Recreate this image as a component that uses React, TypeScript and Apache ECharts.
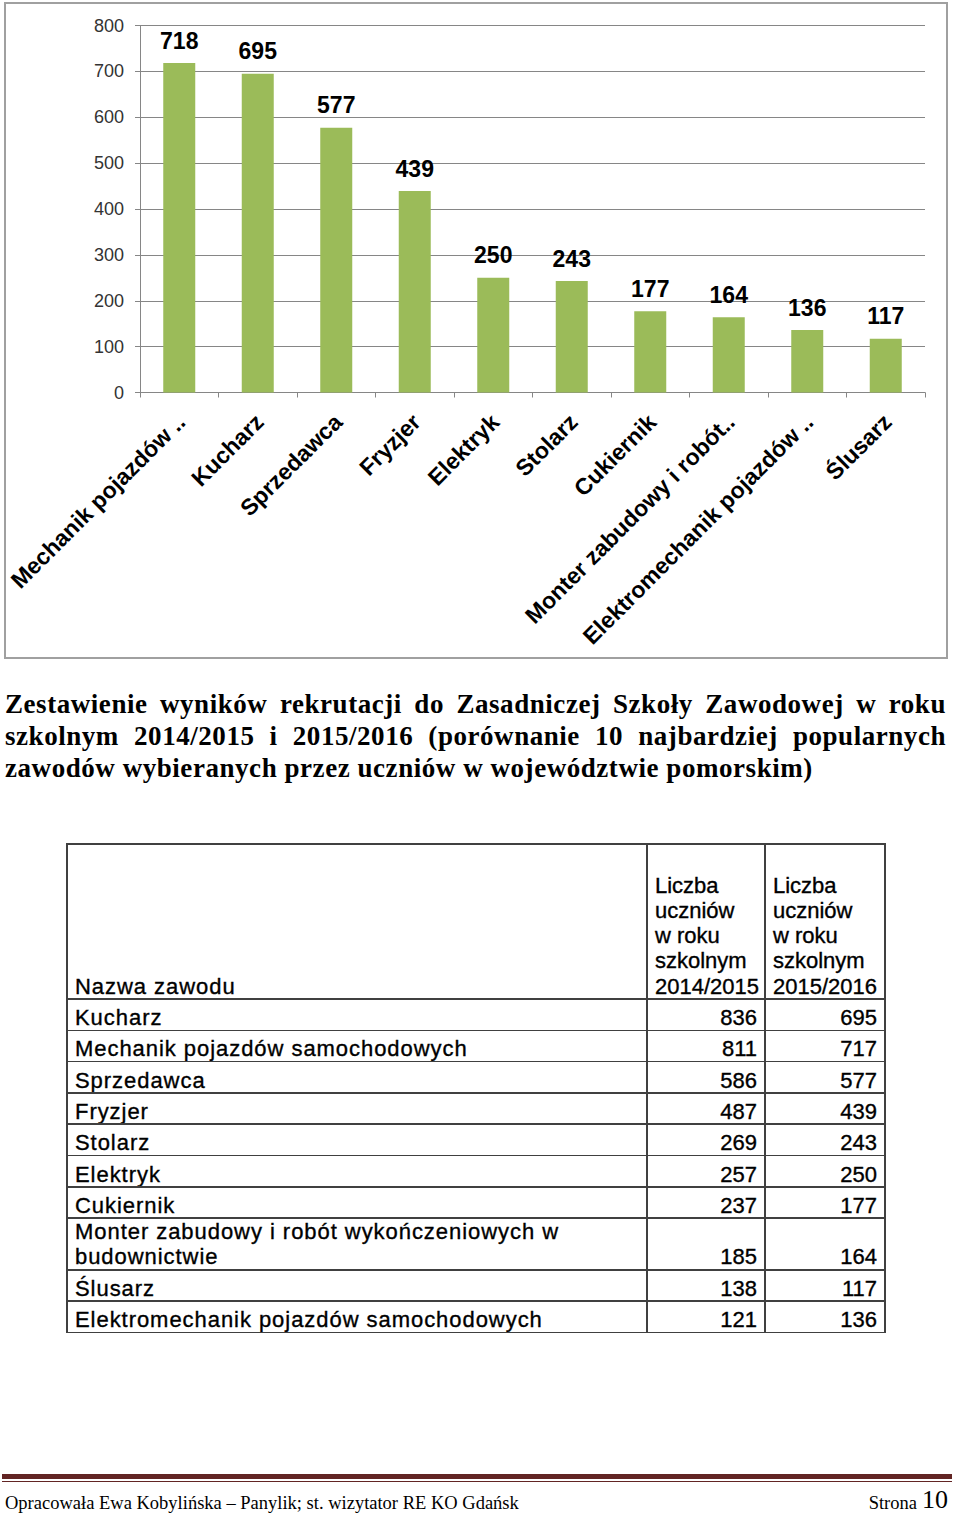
import React, { useEffect, useRef } from "react";
import * as echarts from "echarts";

// ---- chart data ----
const categories = [
  "Mechanik pojazdów ..",
  "Kucharz",
  "Sprzedawca",
  "Fryzjer",
  "Elektryk",
  "Stolarz",
  "Cukiernik",
  "Monter zabudowy i robót..",
  "Elektromechanik pojazdów ..",
  "Ślusarz",
];
const values = [718, 695, 577, 439, 250, 243, 177, 164, 136, 117];
const yTicks = [0, 100, 200, 300, 400, 500, 600, 700, 800];

// ---- text ----
const titleLines = [
  "Zestawienie wyników rekrutacji do Zasadniczej Szkoły Zawodowej w roku",
  "szkolnym 2014/2015 i 2015/2016 (porównanie 10 najbardziej popularnych",
  "zawodów wybieranych przez uczniów w województwie pomorskim)",
];

// ---- table data ----
const tableHeaderName = "Nazwa zawodu";
const tableHeader1 = ["Liczba", "uczniów", "w roku", "szkolnym", "2014/2015"];
const tableHeader2 = ["Liczba", "uczniów", "w roku", "szkolnym", "2015/2016"];
const tableNames = [
  "Kucharz",
  "Mechanik pojazdów samochodowych",
  "Sprzedawca",
  "Fryzjer",
  "Stolarz",
  "Elektryk",
  "Cukiernik",
  "Monter zabudowy i robót wykończeniowych w budownictwie",
  "Ślusarz",
  "Elektromechanik pojazdów samochodowych",
];
const table2015 = [836, 811, 586, 487, 269, 257, 237, 185, 138, 121];
const table2016 = [695, 717, 577, 439, 243, 250, 177, 164, 117, 136];

const footerLeft = "Opracowała Ewa Kobylińska – Panylik; st. wizytator RE KO Gdańsk";
const footerPage = "Strona";
const footerNum = "10";

const GRID = "#868686";

export default function App() {
  const ref = useRef<HTMLDivElement>(null);

  useEffect(() => {
    const chart = echarts.init(ref.current!, null, { renderer: "svg" });
    chart.setOption({
      animation: false,
      backgroundColor: "transparent",
      graphic: [
        {
          type: "rect",
          z: -1,
          shape: { x: 5, y: 3, width: 942, height: 655 },
          style: { fill: "#ffffff", stroke: "#a0a0a0", lineWidth: 2 },
        },
      ],
      grid: {
        left: 140,
        top: 25.5,
        width: 785,
        height: 367,
        containLabel: false,
        outerBoundsMode: "none",
      },
      xAxis: {
        type: "category",
        data: categories,
        axisLine: { show: true, lineStyle: { color: GRID, width: 1 } },
        axisTick: { show: true, length: 5, lineStyle: { color: GRID } },
        axisLabel: {
          interval: 0,
          rotate: 45,
          margin: 11,
          verticalAlign: "top",
          padding: [0, 9, 0, 0],
          fontFamily: "Liberation Sans, Arial, sans-serif",
          fontSize: 23,
          fontWeight: "bold",
          color: "#000000",
        },
      },
      yAxis: {
        type: "value",
        min: yTicks[0],
        max: yTicks[yTicks.length - 1],
        interval: 100,
        axisLine: { show: true, lineStyle: { color: GRID, width: 1 } },
        axisTick: { show: true, length: 5, lineStyle: { color: GRID } },
        splitLine: { show: true, lineStyle: { color: GRID, width: 1 } },
        axisLabel: {
          margin: 16,
          fontFamily: "Liberation Sans, Arial, sans-serif",
          fontSize: 18,
          color: "#333333",
        },
      },
      series: [
        {
          type: "bar",
          data: values,
          barWidth: 32,
          itemStyle: { color: "#9BBB59" },
          label: {
            show: true,
            position: "top",
            distance: 11,
            fontFamily: "Liberation Sans, Arial, sans-serif",
            fontSize: 23,
            fontWeight: "bold",
            color: "#000000",
          },
        },
      ],
    });
    return () => chart.dispose();
  }, []);

  // table geometry
  const colX = [67, 647, 765, 885];
  const headerH = 155;
  const rowH = tableNames.map((n) => (n.length > 45 ? 51.7 : 31.3));
  const rowTops: number[] = [844 + headerH];
  rowH.forEach((h, i) => rowTops.push(rowTops[i] + h));
  const tableTop = 844;
  const tableBottom = rowTops[rowTops.length - 1];
  const lineColor = "#404040";
  const lw = 1.5;

  const cellFont: React.CSSProperties = {
    fontFamily: "'Liberation Sans', Arial, sans-serif",
    fontSize: 22,
    lineHeight: "25.3px",
    letterSpacing: "0.95px",
    color: "#000",
    WebkitTextStroke: "0.35px #000",
  };

  const cell = (
    key: string,
    x0: number,
    x1: number,
    y0: number,
    y1: number,
    content: React.ReactNode,
    align: "left" | "right",
    padR = 8
  ) => (
    <div
      key={key}
      style={{
        position: "absolute",
        left: x0,
        top: y0,
        width: x1 - x0,
        height: y1 - y0,
        display: "flex",
        flexDirection: "column",
        justifyContent: "flex-end",
        boxSizing: "border-box",
        paddingLeft: 8,
        paddingRight: padR,
        paddingBottom: 0,
        textAlign: align,
        ...cellFont,
      }}
    >
      {content}
    </div>
  );

  const cells: React.ReactNode[] = [];
  cells.push(cell("h0", colX[0], colX[1], tableTop, rowTops[0], <div>{tableHeaderName}</div>, "left"));
  cells.push(
    cell(
      "h1",
      colX[1],
      colX[2],
      tableTop,
      rowTops[0],
      <div style={{ letterSpacing: 0 }}>
        {tableHeader1.map((t, i) => (
          <div key={i}>{t}</div>
        ))}
      </div>,
      "left",
      2
    )
  );
  cells.push(
    cell(
      "h2",
      colX[2],
      colX[3],
      tableTop,
      rowTops[0],
      <div style={{ letterSpacing: 0 }}>
        {tableHeader2.map((t, i) => (
          <div key={i}>{t}</div>
        ))}
      </div>,
      "left",
      2
    )
  );
  tableNames.forEach((n, i) => {
    const y0 = rowTops[i];
    const y1 = rowTops[i + 1];
    cells.push(cell("n" + i, colX[0], colX[1], y0, y1, <div>{n}</div>, "left", 14));
    cells.push(cell("a" + i, colX[1], colX[2], y0, y1, <div style={{ letterSpacing: 0 }}>{table2015[i]}</div>, "right"));
    cells.push(cell("b" + i, colX[2], colX[3], y0, y1, <div style={{ letterSpacing: 0 }}>{table2016[i]}</div>, "right"));
  });

  const lines: React.ReactNode[] = [];
  [tableTop, ...rowTops].forEach((y, i) =>
    lines.push(
      <div
        key={"hl" + i}
        style={{
          position: "absolute",
          left: colX[0] - lw / 2,
          top: y - lw / 2,
          width: colX[3] - colX[0] + lw,
          height: lw,
          background: lineColor,
        }}
      />
    )
  );
  colX.forEach((x, i) =>
    lines.push(
      <div
        key={"vl" + i}
        style={{
          position: "absolute",
          left: x - lw / 2,
          top: tableTop - lw / 2,
          width: lw,
          height: tableBottom - tableTop + lw,
          background: lineColor,
        }}
      />
    )
  );

  const titleBaselines = [714.3, 746.7, 779];

  return (
    <div
      style={{
        position: "absolute",
        left: 0,
        top: 0,
        width: 960,
        height: 1516,
        background: "#ffffff",
        overflow: "hidden",
      }}
    >
      <div ref={ref} style={{ position: "absolute", left: 0, top: 0, width: 960, height: 662 }} />

      {titleLines.map((t, i) => (
        <div
          key={"t" + i}
          style={{
            position: "absolute",
            left: 5,
            width: 941,
            top: titleBaselines[i] - 26.8,
            fontFamily: "'Liberation Serif', 'Times New Roman', serif",
            fontWeight: "bold",
            fontSize: 27,
            lineHeight: "32.5px",
            letterSpacing: "0.55px",
            whiteSpace: "nowrap",
            textAlign: i < 2 ? "justify" : "left",
            textAlignLast: i < 2 ? "justify" : "left",
            color: "#000",
          }}
        >
          {t}
        </div>
      ))}

      {cells}
      {lines}

      <div style={{ position: "absolute", left: 2, top: 1474, width: 950, height: 5, background: "#622423" }} />
      <div style={{ position: "absolute", left: 2, top: 1480.5, width: 950, height: 1.2, background: "#622423" }} />
      <div
        style={{
          position: "absolute",
          left: 5,
          top: 1493.5,
          fontFamily: "'Liberation Serif', 'Times New Roman', serif",
          fontSize: 18.5,
          lineHeight: 1,
          whiteSpace: "nowrap",
          color: "#000",
        }}
      >
        {footerLeft}
      </div>
      <div
        style={{
          position: "absolute",
          right: 43,
          top: 1493.5,
          fontFamily: "'Liberation Serif', 'Times New Roman', serif",
          fontSize: 18.5,
          lineHeight: 1,
          whiteSpace: "nowrap",
          color: "#000",
        }}
      >
        {footerPage}
      </div>
      <div
        style={{
          position: "absolute",
          right: 12,
          top: 1487,
          fontFamily: "'Liberation Serif', 'Times New Roman', serif",
          fontSize: 26,
          lineHeight: 1,
          whiteSpace: "nowrap",
          color: "#000",
        }}
      >
        {footerNum}
      </div>
    </div>
  );
}
